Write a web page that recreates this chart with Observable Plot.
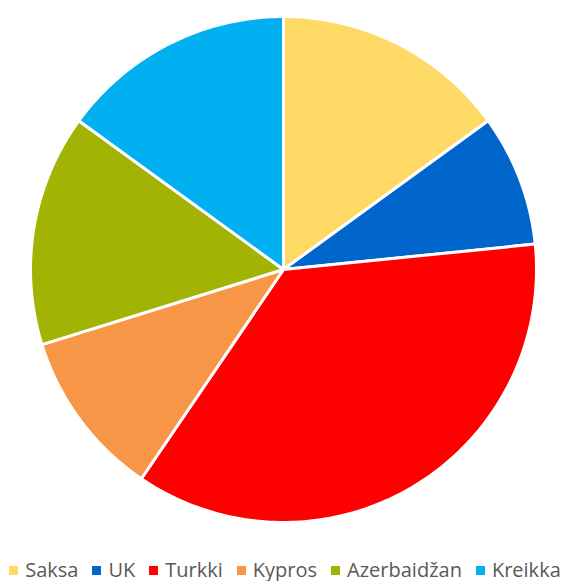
<!DOCTYPE html>
<html><head><meta charset="utf-8">
<script src="https://cdn.jsdelivr.net/npm/d3@7"></script>
<script src="https://cdn.jsdelivr.net/npm/@observablehq/plot@0.6"></script>
<style>
body{margin:0;background:#fff;font-family:"Open Sans",Lato,sans-serif;}
#legend{display:flex;justify-content:center;align-items:center;gap:14px;font-size:20px;color:#595959;margin-top:14px;white-space:nowrap;line-height:22px;}
#legend span.item{display:flex;align-items:center;}
#legend i{display:inline-block;width:9px;height:9px;margin-right:7px;}
</style></head>
<body><div id="chart"></div><div id="legend"></div>
<script>
const categories = ["Saksa","UK","Turkki","Kypros","Azerbaidžan","Kreikka"];
const values = [15, 8.4, 36.1, 10.7, 14.8, 15];
const colors = ["#FFD966","#0066CC","#FF0000","#F79646","#A2B304","#00B0F0"];

const R = 253;
const pie = d3.pie().sort(null).value(d => d.value)(categories.map((c,i)=>({cat:c,value:values[i]})));
const pts = [];
pie.forEach(s => {
  const n = Math.max(2, Math.ceil((s.endAngle - s.startAngle) * 60));
  pts.push({cat:s.data.cat, x:0, y:0});
  for (let k=0;k<=n;k++){
    const a = s.startAngle + (s.endAngle - s.startAngle)*k/n;
    pts.push({cat:s.data.cat, x:R*Math.sin(a), y:R*Math.cos(a)});
  }
  pts.push({cat:s.data.cat, x:0, y:0});
});

const chart = Plot.plot({
  width:570, height:545, margin:0,
  x:{domain:[-283,287], axis:null},
  y:{domain:[-276,269], axis:null},
  color:{domain:categories, range:colors},
  marks:[
    Plot.line(pts,{x:"x",y:"y",z:"cat",fill:"cat",stroke:"white",strokeWidth:3,strokeLinejoin:"round",curve:"linear"})
  ]
});
document.getElementById("chart").append(chart);
const lg = document.getElementById("legend");
categories.forEach((c,i)=>{
  const s=document.createElement("span");s.className="item";
  s.innerHTML=`<i style="background:${colors[i]}"></i>${c}`;
  lg.append(s);
});
</script></body></html>
